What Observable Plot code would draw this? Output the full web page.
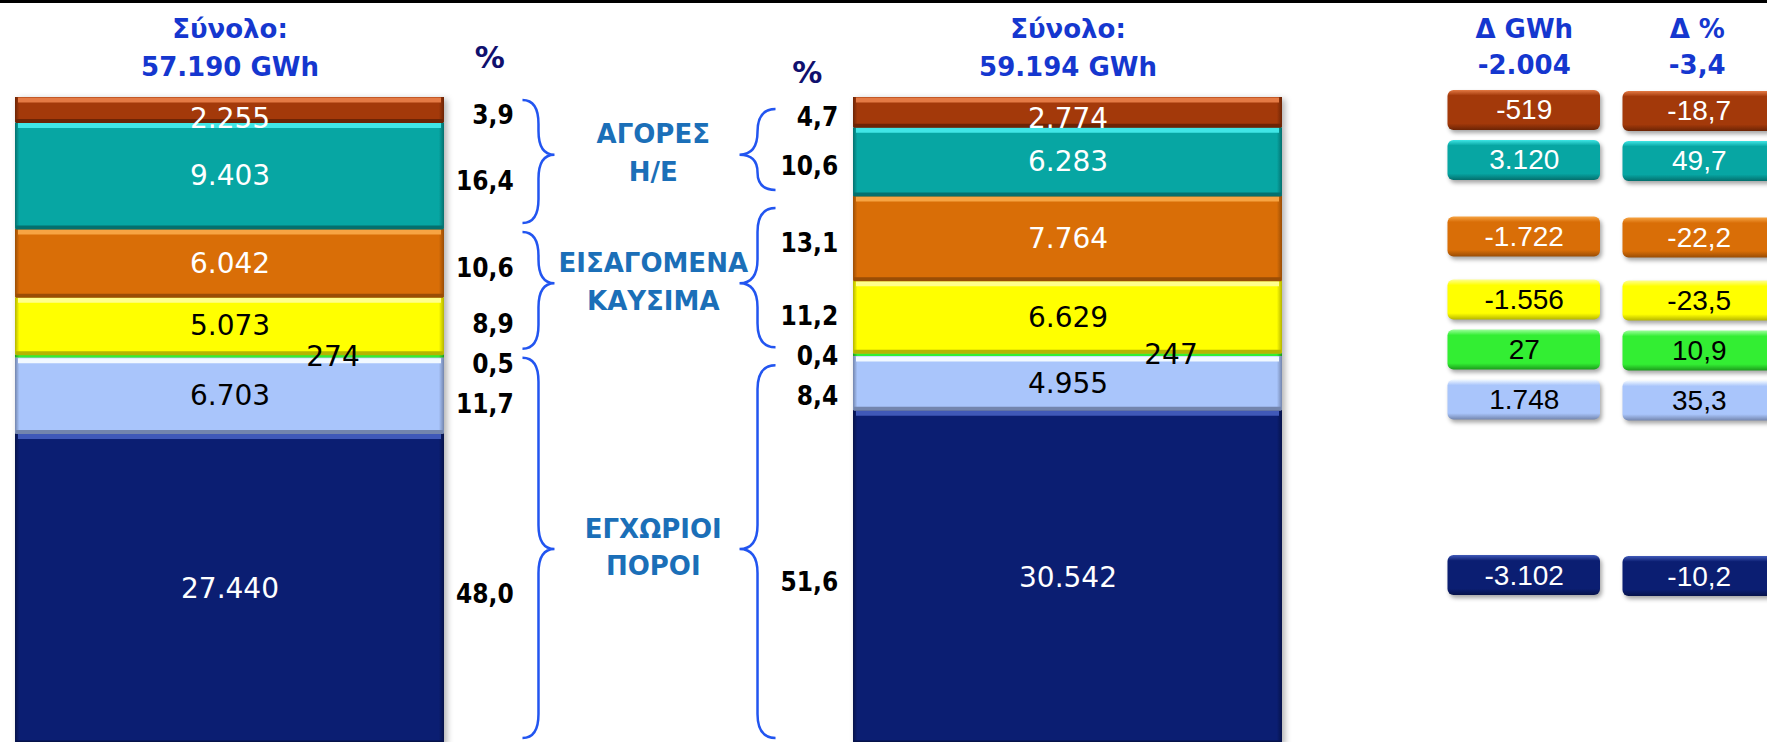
<!DOCTYPE html>
<html><head><meta charset="utf-8">
<script src="https://cdn.jsdelivr.net/npm/d3@7"></script>
<script src="https://cdn.jsdelivr.net/npm/@observablehq/plot@0.6"></script>
<style>html,body{margin:0;padding:0;background:#fff;overflow:hidden}svg{display:block}</style>
</head><body><div id="chart"></div>
<script>
// ---------------- DATA ----------------
const periods = ["Έτος Α", "Έτος Β"];
const categories = ["Εισαγωγές Η/Ε", "Αγορά Η/Ε", "Φυσικό αέριο", "Πετρέλαιο", "ΑΠΕ", "Υδροηλεκτρικά", "Λιγνίτης"];
const valuesA = [2255, 9403, 6042, 5073, 274, 6703, 27440];
const valuesB = [2774, 6283, 7764, 6629, 247, 4955, 30542];
const pctA = [3.9, 16.4, 10.6, 8.9, 0.5, 11.7, 48.0];
const pctB = [4.7, 10.6, 13.1, 11.2, 0.4, 8.4, 51.6];
const totals = [57190, 59194];
const deltaGWh = [-519, 3120, -1722, -1556, 27, 1748, -3102];
const deltaPct = [-18.7, 49.7, -22.2, -23.5, 10.9, 35.3, -10.2];
const totalDeltaGWh = -2004;
const totalDeltaPct = -3.4;
const groupNames = ["ΑΓΟΡΕΣ\nΗ/Ε", "ΕΙΣΑΓΟΜΕΝΑ\nΚΑΥΣΙΜΑ", "ΕΓΧΩΡΙΟΙ\nΠΟΡΟΙ"];
const groupOf = [0, 0, 1, 1, 2, 2, 2];

// ---------------- STYLES ----------------
const baseColor = ["#a3390a", "#07a6a3", "#d96e07", "#ffff00", "#33ee33", "#a9c5fb", "#0b1e72"];
const hiColor   = ["#e47a45", "#40e6e6", "#f7a443", "#ffff8c", "#9bff9b", "#f2f9ff", "#4059b8"];
const shColor   = ["#6c2405", "#04706e", "#9a4d05", "#b5b500", "#1c9a1c", "#7385ad", "#06124a"];
const labelColor = ["#fff", "#fff", "#fff", "#000", "#000", "#000", "#fff"];
const headerBlue = "#1537cf";
const groupBlue = "#1b6fb8";
const braceBlue = "#2255f0";

// ---------------- LAYOUT ----------------
const W = 1767, H = 742;
const Y_RANGE = [97, 744];
const X_RANGE = [15, 1283];
const PAD_INNER = 0.4878;
const BOX_W = 153, BOX_H = 40, BOX_OFFSET = 165, BOX_COL_GAP = 22;

const xScale = Plot.scale({x: {type: "band", domain: periods, range: X_RANGE, paddingInner: PAD_INNER, paddingOuter: 0, align: 0.5}});
const yScale = Plot.scale({y: {domain: [0, 1], range: Y_RANGE}});
const bw = xScale.bandwidth;
const bandStart = p => xScale.apply(p);
const bandEnd = p => xScale.apply(p) + bw;
const bandCenter = p => xScale.apply(p) + bw / 2;

const loc = d3.formatLocale({decimal: ",", thousands: ".", grouping: [3], currency: ["", "€"], minus: "-"});
const fmtInt = loc.format(",d");
const fmtPct = loc.format(",.1f");

// spread label centers (pixel) so that neighbours are at least `gap` apart
function spread(centers, gap) {
  let clusters = centers.map((c, i) => ({start: i, n: 1, sum: c}));
  let changed = true;
  while (changed) {
    changed = false;
    for (let k = 1; k < clusters.length; k++) {
      const a = clusters[k - 1], b = clusters[k];
      const aTop = a.sum / a.n - (a.n - 1) * gap / 2;
      const aBottom = aTop + (a.n - 1) * gap;
      const bTop = b.sum / b.n - (b.n - 1) * gap / 2;
      if (bTop - aBottom < gap) {
        a.n += b.n; a.sum += b.sum; clusters.splice(k, 1); changed = true; break;
      }
    }
  }
  const out = [];
  for (const c of clusters) {
    const top = c.sum / c.n - (c.n - 1) * gap / 2;
    for (let k = 0; k < c.n; k++) out.push(top + k * gap);
  }
  return out;
}

// ---------------- TABLES ----------------
const series = [valuesA, valuesB];
const pcts = [pctA, pctB];
const rows = [];
periods.forEach((p, j) => {
  const vals = series[j];
  const total = d3.sum(vals);
  let acc = 0;
  const mids = [];
  const tmp = vals.map((v, i) => {
    const y1 = acc / total; acc += v; const y2 = acc / total;
    mids.push(yScale.apply((y1 + y2) / 2));
    return {period: p, cat: categories[i], i, value: v, pct: pcts[j][i], y1, y2, mid: (y1 + y2) / 2};
  });
  const pctPos = spread(mids, 40);
  tmp.forEach((r, i) => {
    r.pctY = yScale.invert(pctPos[i] + 5);
    r.labelY = Math.max(r.mid, r.y1 + 22 / (Y_RANGE[1] - Y_RANGE[0]));
    r.px = yScale.apply(r.y2) - yScale.apply(r.y1);
    rows.push(r);
  });
});
const rowsA = rows.filter(r => r.period === periods[0]);
const rowsB = rows.filter(r => r.period === periods[1]);

// group extents
const groups = groupNames.map((name, g) => {
  const ext = [rowsA, rowsB].map(rs => {
    const gr = rs.filter(r => groupOf[r.i] === g);
    return [d3.min(gr, r => r.y1), d3.max(gr, r => r.y2)];
  });
  const mid = (ext[0][0] + ext[0][1] + ext[1][0] + ext[1][1]) / 4;
  return {name, g, ext, mid};
});

// delta boxes, positioned next to the right-hand bar segments
const boxCenters = spread(rowsB.map(r => yScale.apply(r.mid)), 50);
const deltas = categories.map((c, i) => ({
  cat: c, i, dG: deltaGWh[i], dP: deltaPct[i], c: yScale.invert(boxCenters[i] - 2)
}));
const pR = periods[1], pL = periods[0];
const col1Left = bandEnd(pR) + BOX_OFFSET;
const col2Left = col1Left + BOX_W + BOX_COL_GAP;

const headerRows = periods.map((p, j) => ({period: p, text: `Σύνολο:\n${fmtInt(totals[j])} GWh`}));

// ---------------- PLOT ----------------
const labelFont = "DejaVu Sans";
const pctFont = "'DejaVu Sans Condensed', 'DejaVu Sans'";
const chart = Plot.plot({
  width: W, height: H, margin: 0,
  style: {fontFamily: labelFont, background: "#fff", overflow: "hidden"},
  x: {type: "band", domain: periods, range: X_RANGE, paddingInner: PAD_INNER, paddingOuter: 0, align: 0.5, axis: null},
  y: {domain: [0, 1], range: Y_RANGE, axis: null},
  color: {type: "identity"},
  marks: [
    Plot.frame({anchor: "top", stroke: "#000", strokeWidth: 5}),
    // stacked bars
    Plot.barY(rows, {x: "period", y1: "y1", y2: "y2", fill: d => `url(#bar-${d.i})`, ariaDescription: "bar-segments"}),
    Plot.tickY(rows.filter(r => r.px > 8), {x: "period", y: "y1", stroke: d => hiColor[d.i], strokeWidth: 5, dy: 2.5, insetLeft: 3, insetRight: 3}),
    Plot.tickY(rows.filter(r => r.px > 8), {x: "period", y: "y2", stroke: d => shColor[d.i], strokeWidth: 4, dy: -2, insetLeft: 1, insetRight: 1}),
    // values inside bars
    Plot.text(rows.filter(r => r.px > 8), {x: "period", y: "labelY", text: d => fmtInt(d.value), fill: d => labelColor[d.i], fontSize: 28, fontFamily: labelFont}),
    Plot.text(rows.filter(r => r.px <= 8), {x: "period", y: "mid", text: d => fmtInt(d.value), fill: "#000", fontSize: 28, fontFamily: labelFont, dx: 103}),
    // percent labels
    Plot.text(rowsA, {x: "period", y: "pctY", text: d => fmtPct(d.pct), textAnchor: "end", dx: bw / 2 + 69, fontSize: 26, fontWeight: "bold", fontFamily: pctFont, fill: "#000"}),
    Plot.text(rowsB, {x: "period", y: "pctY", text: d => fmtPct(d.pct), textAnchor: "end", dx: -bw / 2 - 15, fontSize: 26, fontWeight: "bold", fontFamily: pctFont, fill: "#000"}),
    // % headers
    Plot.text([pL], {x: d => d, frameAnchor: "top", lineAnchor: "middle", dy: 58, dx: bw / 2 + 45, text: () => "%", fontSize: 30, fontWeight: "bold", fill: "#10106e"}),
    Plot.text([pR], {x: d => d, frameAnchor: "top", lineAnchor: "middle", dy: 73, dx: -bw / 2 - 46, text: () => "%", fontSize: 30, fontWeight: "bold", fill: "#10106e"}),
    // totals headers
    Plot.text(headerRows, {x: "period", frameAnchor: "top", lineAnchor: "middle", dy: 44, text: "text", lineHeight: 1.46, fontSize: 26, fontWeight: "bold", fill: headerBlue}),
    // group labels
    Plot.text(groups, {x: () => pL, y: "mid", text: "name", dy: -5, dx: (bandStart(pR) - bandEnd(pL)) / 2 + bw / 2 + 4, lineHeight: 1.45, fontSize: 26, fontWeight: "bold", fill: groupBlue}),
    // delta boxes
    Plot.barY(deltas, {x: () => pR, y1: "c", y2: "c", insetTop: -BOX_H / 2, insetBottom: -BOX_H / 2,
      insetLeft: col1Left - bandStart(pR), insetRight: bandEnd(pR) - (col1Left + BOX_W), rx: 6, fill: d => `url(#box-${d.i})`, ariaDescription: "delta-boxes"}),
    Plot.barY(deltas, {x: () => pR, y1: "c", y2: "c", insetTop: -BOX_H / 2 + 1, insetBottom: -BOX_H / 2 - 1,
      insetLeft: col2Left - bandStart(pR), insetRight: bandEnd(pR) - (col2Left + BOX_W), rx: 6, fill: d => `url(#box-${d.i})`, ariaDescription: "delta-boxes"}),
    Plot.text(deltas, {x: () => pR, y: "c", text: d => fmtInt(d.dG), dx: col1Left + BOX_W / 2 - bandCenter(pR), fill: d => labelColor[d.i], fontSize: 28, fontFamily: "Liberation Sans"}),
    Plot.text(deltas, {x: () => pR, y: "c", text: d => fmtPct(d.dP), dx: col2Left + BOX_W / 2 - bandCenter(pR), dy: 1, fill: d => labelColor[d.i], fontSize: 28, fontFamily: "Liberation Sans"}),
    // delta headers
    Plot.text([`Δ GWh\n${fmtInt(totalDeltaGWh)}`], {x: () => pR, frameAnchor: "top", lineAnchor: "middle", dy: 44, dx: col1Left + BOX_W / 2 - bandCenter(pR), text: d => d, lineHeight: 1.38, fontSize: 26, fontWeight: "bold", fill: headerBlue}),
    Plot.text([`Δ %\n${fmtPct(totalDeltaPct)}`], {x: () => pR, frameAnchor: "top", lineAnchor: "middle", dy: 44, dx: col2Left + BOX_W / 2 - 2 - bandCenter(pR), text: d => d, lineHeight: 1.38, fontSize: 26, fontWeight: "bold", fill: headerBlue})
  ]
});

// ---------------- GRADIENTS, SHADOWS, BRACES ----------------
const svg = d3.select(chart);
const defs = svg.insert("defs", ":first-child");
baseColor.forEach((c, i) => {
  const g = defs.append("linearGradient").attr("id", `bar-${i}`).attr("x1", 0).attr("x2", 1).attr("y1", 0).attr("y2", 0);
  g.append("stop").attr("offset", "0%").attr("stop-color", shColor[i]);
  g.append("stop").attr("offset", "1%").attr("stop-color", c);
  g.append("stop").attr("offset", "98.8%").attr("stop-color", c);
  g.append("stop").attr("offset", "100%").attr("stop-color", shColor[i]);
  const b = defs.append("linearGradient").attr("id", `box-${i}`).attr("x1", 0).attr("x2", 0).attr("y1", 0).attr("y2", 1);
  b.append("stop").attr("offset", "0%").attr("stop-color", hiColor[i]);
  b.append("stop").attr("offset", "14%").attr("stop-color", c);
  b.append("stop").attr("offset", "84%").attr("stop-color", c);
  b.append("stop").attr("offset", "100%").attr("stop-color", shColor[i]);
});
svg.selectAll('g[aria-description="bar-segments"]').style("filter", "drop-shadow(3px 2px 3px rgba(0,0,0,0.3))");
svg.selectAll('g[aria-description="delta-boxes"]').style("filter", "drop-shadow(2px 3px 2px rgba(0,0,0,0.35))");

function bracePath(x0, w, y0, y1, ym) {
  const xm = x0 + w / 2, xt = x0 + w;
  const r1 = Math.min(24, (ym - y0) / 2), r2 = Math.min(24, (y1 - ym) / 2);
  const p = d3.path();
  p.moveTo(x0, y0);
  p.quadraticCurveTo(xm, y0, xm, y0 + r1);
  p.lineTo(xm, ym - r1);
  p.quadraticCurveTo(xm, ym, xt, ym);
  p.quadraticCurveTo(xm, ym, xm, ym + r2);
  p.lineTo(xm, y1 - r2);
  p.quadraticCurveTo(xm, y1, x0, y1);
  return p.toString();
}
const braceG = svg.append("g").attr("fill", "none").attr("stroke", braceBlue).attr("stroke-width", 2.5);
groups.forEach(gr => {
  const ym = yScale.apply(gr.mid);
  const [l0, l1] = gr.ext[0].map(v => yScale.apply(v));
  const [r0, r1] = gr.ext[1].map(v => yScale.apply(v));
  braceG.append("path").attr("d", bracePath(bandEnd(pL) + 78, 32, l0 + 3, l1 - 6, ym));
  braceG.append("path").attr("d", bracePath(bandStart(pR) - 78, -36, r0 + 12, r1 - 6, ym));
});

document.getElementById("chart").appendChild(chart);
</script>
</body></html>
